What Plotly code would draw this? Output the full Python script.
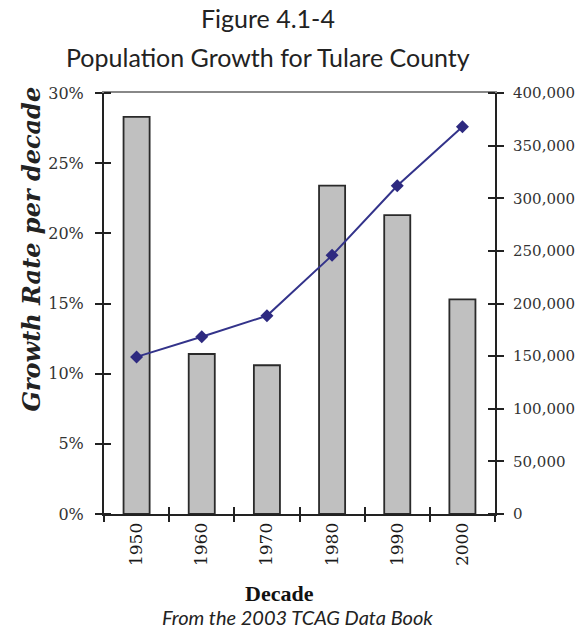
import plotly.graph_objects as go

decades = ["1950", "1960", "1970", "1980", "1990", "2000"]
growth_rate = [28.3, 11.4, 10.6, 23.4, 21.3, 15.3]
population = [149264, 168403, 188322, 245738, 311921, 368021]
left_ticks = [0, 5, 10, 15, 20, 25, 30]
left_tick_labels = ["0%", "5%", "10%", "15%", "20%", "25%", "30%"]
right_ticks = [0, 50000, 100000, 150000, 200000, 250000, 300000, 350000, 400000]
right_tick_labels = ["0", "50,000", "100,000", "150,000", "200,000", "250,000",
                     "300,000", "350,000", "400,000"]
boundaries = [-0.5, 0.5, 1.5, 2.5, 3.5, 4.5, 5.5]

axis_col = "#222222"

fig = go.Figure()
fig.add_trace(go.Bar(
    x=decades, y=growth_rate, xaxis="x", yaxis="y",
    marker=dict(color="#c0c0c0", line=dict(color="#2a2a2a", width=1.8)),
    showlegend=False, hoverinfo="skip"))
fig.add_trace(go.Scatter(
    x=decades, y=population, xaxis="x", yaxis="y2", mode="lines+markers",
    line=dict(color="#33338a", width=2),
    marker=dict(symbol="diamond", size=10, color="#2e2a80"),
    showlegend=False, hoverinfo="skip"))
# invisible helper traces so the tick-only overlay x axes are registered
for xa in ["x2", "x3", "x4"]:
    fig.add_trace(go.Scatter(x=[None], y=[None], xaxis=xa, yaxis="y", mode="markers",
                             showlegend=False, hoverinfo="skip"))

# inner half of the crossing tick marks (tiny offset so they are not merged with major ticks)
left_inner = [v + 1e-6 for v in left_ticks]
right_inner = [v + 1e-3 for v in right_ticks]

fig.update_layout(
    width=588, height=629,
    margin=dict(l=104, r=93, t=93, b=115),
    paper_bgcolor="white", plot_bgcolor="white",
    bargap=0.6,
    xaxis=dict(type="category", categoryarray=decades, ticks="", tickangle=-90,
               tickfont=dict(family="DejaVu Serif", size=17, color="#1a1a1a"),
               showline=True, linecolor=axis_col, linewidth=2,
               showgrid=False, zeroline=False, anchor="y", range=[-0.5, 5.5]),
    xaxis2=dict(overlaying="x", type="linear", range=[-0.5, 5.5], anchor="y",
                tickvals=boundaries, ticks="outside", ticklen=7, tickwidth=2,
                tickcolor=axis_col, showticklabels=False, showline=False,
                showgrid=False, zeroline=False, side="bottom"),
    xaxis3=dict(overlaying="x", type="linear", range=[-0.5, 5.5], anchor="y",
                tickvals=boundaries, ticks="inside", ticklen=7, tickwidth=2,
                tickcolor=axis_col, showticklabels=False, showline=False,
                showgrid=False, zeroline=False, side="bottom"),
    xaxis4=dict(overlaying="x", type="linear", range=[-0.5, 5.5], anchor="y",
                side="top", showline=True, linecolor="#888888", linewidth=1.5,
                ticks="", showticklabels=False, showgrid=False, zeroline=False),
    yaxis=dict(range=[0, 30], tickmode="array", tickvals=left_ticks,
               ticktext=left_tick_labels,
               ticks="outside", ticklen=7, tickwidth=2, tickcolor=axis_col,
               tickfont=dict(family="DejaVu Serif", size=16, color="#333333"),
               showline=True, linecolor=axis_col, linewidth=2,
               showgrid=False, zeroline=False, ticklabelstandoff=8,
               minor=dict(tickmode="array", tickvals=left_inner, ticks="inside",
                          ticklen=7, tickwidth=2, tickcolor=axis_col, showgrid=False)),
    yaxis2=dict(overlaying="y", side="right", anchor="x", range=[0, 400000],
                tickmode="array", tickvals=right_ticks, ticktext=right_tick_labels,
                ticks="outside", ticklen=7, tickwidth=2, tickcolor=axis_col,
                tickfont=dict(family="DejaVu Serif", size=15, color="#333333"),
                showline=True, linecolor=axis_col, linewidth=2,
                showgrid=False, zeroline=False, ticklabelstandoff=6,
                minor=dict(tickmode="array", tickvals=right_inner, ticks="inside",
                           ticklen=7, tickwidth=2, tickcolor=axis_col, showgrid=False)),
)

fig.add_annotation(text="Figure 4.1-4", xref="paper", yref="paper",
                   x=0.419, xanchor="center", y=1, yanchor="middle", yshift=75,
                   showarrow=False, font=dict(family="Lato", size=25, color="#222222"))
fig.add_annotation(text="Population Growth for Tulare County", xref="paper", yref="paper",
                   x=0.419, xanchor="center", y=1, yanchor="middle", yshift=36,
                   showarrow=False, font=dict(family="Lato", size=25, color="#222222"))
fig.add_annotation(text="<b><i>Growth Rate per decade</i></b>", xref="paper", yref="paper",
                   x=0, xanchor="center", y=0.628, yanchor="middle", xshift=-72,
                   textangle=-90, showarrow=False,
                   font=dict(family="DejaVu Serif", size=24, color="#222222"))
fig.add_annotation(text="<b>Decade</b>", xref="paper", yref="paper",
                   x=0.448, xanchor="center", y=0, yanchor="middle", yshift=-79,
                   showarrow=False,
                   font=dict(family="Liberation Serif", size=22, color="#111111"))
fig.add_annotation(text="<i>From the 2003 TCAG Data Book</i>", xref="paper", yref="paper",
                   x=0.495, xanchor="center", y=0, yanchor="middle", yshift=-103,
                   showarrow=False, font=dict(family="Lato", size=20, color="#222222"))

fig.write_html("out.html")
